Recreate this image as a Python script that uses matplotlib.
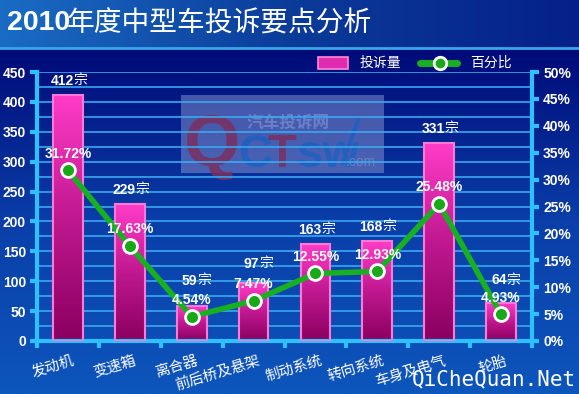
import matplotlib
matplotlib.use('Agg')
import matplotlib.pyplot as plt
import numpy as np
from matplotlib.colors import LinearSegmentedColormap
from matplotlib.patches import Rectangle

plt.rcParams['font.family'] = ['Noto Sans CJK SC', 'DejaVu Sans']

# data
categories = ['发动机', '变速箱', '离合器', '前后桥及悬架', '制动系统', '转向系统', '车身及电气', '轮胎']
counts = [412, 229, 59, 97, 163, 168, 331, 64]
percents = [31.72, 17.63, 4.54, 7.47, 12.55, 12.93, 25.48, 4.93]
left_ticks = list(range(0, 451, 50))
right_ticks = list(range(0, 51, 5))

# label offsets (points) above bar tops, moved up where they would clash
count_offset = [5, 5, 13, 9, 5, 5, 5, 11]

W, H = 579, 394
fig = plt.figure(figsize=(W / 100, H / 100), dpi=100)
arial = ['Liberation Sans', 'DejaVu Sans']

# background
bg = fig.add_axes([0, 0, 1, 1], zorder=-10)
bg.set_axis_off()
bg.set_xlim(0, W)
bg.set_ylim(H, 0)
body_cmap = LinearSegmentedColormap.from_list('body', ['#000a78', '#0a3ea8', '#0d56bc'])
bg.imshow(np.linspace(0, 1, 256).reshape(-1, 1), extent=[0, W, H, 48], cmap=body_cmap, aspect='auto')
title_cmap = LinearSegmentedColormap.from_list('title', ['#1a6cc4', '#0b3c9a', '#05208a'])
bg.imshow(np.linspace(0, 1, 256).reshape(1, -1), extent=[0, W, 48, 0], cmap=title_cmap, aspect='auto')
bg.plot([0, W], [48, 48], color='#3aa6e8', lw=2)
bg.text(7, 23, '2010', color='white', fontsize=20.5, fontweight='bold', va='center', family=arial)
bg.text(67, 23, '年度中型车投诉要点分析', color='white', fontsize=20, va='center')

# watermark box
bg.add_patch(Rectangle((181, 95), 203, 78, facecolor='#8a96d0', alpha=0.5, lw=0))
bg.text(184, 166, 'Q', color='#7a3060', fontsize=52, fontweight='bold', va='baseline', family=arial, alpha=0.85)
bg.text(238, 167, 'C', color='#2060c0', fontsize=34, fontweight='bold', va='baseline', family=arial, alpha=0.85)
bg.text(268, 167, 'T', color='#7a3060', fontsize=34, fontweight='bold', va='baseline', family=arial, alpha=0.85)
bg.text(296, 167, 'sw', color='#2060c0', fontsize=34, fontweight='bold', va='baseline', family=arial, alpha=0.85)
bg.plot([343, 358], [162, 120], color='#2060c0', lw=3, alpha=0.85)
bg.text(346, 166, '.com', color='#6a80c0', fontsize=10, va='baseline', family=arial)
bg.text(247, 123, '汽车投诉网', color='#6a80c8', fontsize=12, fontweight='bold', va='center')

# watermark footer
bg.text(576, 379, 'QiCheQuan.Net', color='white', fontsize=15, ha='right', va='center',
        family=['DejaVu Sans Mono'])

ax = fig.add_axes([37 / W, 1 - 341 / H, (532 - 37) / W, (341 - 72) / H])
ax.patch.set_alpha(0)
x = np.arange(len(categories))

# grid
for g in range(25, 451, 25):
    ax.axhline(g, color='#3aa8f0', lw=1.2, zorder=1)

bar_cmap = LinearSegmentedColormap.from_list('bar', ['#ff3cc8', '#c01890', '#8a0060'])
bars = ax.bar(x, counts, width=0.48, facecolor='none', edgecolor='#ff7ad6', lw=1.5, zorder=3)
for b in bars:
    x0 = b.get_x()
    im = ax.imshow(np.linspace(0, 1, 128).reshape(-1, 1), extent=[x0, x0 + b.get_width(), 0, b.get_height()],
                   cmap=bar_cmap, aspect='auto', origin='upper', zorder=2)
    im.set_clip_path(b)
ax.set_xlim(-0.5, len(categories) - 0.5)
ax.set_ylim(0, 450)

for xi, c, off in zip(x, counts, count_offset):
    ax.annotate(f'{c}', xy=(xi, c), xytext=(4, off), textcoords='offset points', color='white',
                fontsize=10, fontweight='bold', ha='right', va='bottom', family=arial)
    ax.annotate('宗', xy=(xi, c), xytext=(4, off + 0.5), textcoords='offset points', color='white',
                fontsize=10, ha='left', va='bottom')

for s in ['top', 'right']:
    ax.spines[s].set_visible(False)
for s in ['left', 'bottom']:
    ax.spines[s].set_color('#2ec0ff')
    ax.spines[s].set_linewidth(3)
ax.set_yticks(left_ticks)
ax.set_yticklabels([str(t) for t in left_ticks], family=arial, fontweight='bold', fontsize=10, color='white')
ax.set_xticks(np.arange(len(categories) + 1) - 0.5)
ax.set_xticklabels([])
ax.tick_params(axis='both', colors='#2ec0ff', width=3, length=5, direction='out')
ax.tick_params(axis='y', labelcolor='white', pad=3)

for xi, cat in zip(x, categories):
    ax.annotate(cat, xy=(xi, 0), xycoords='data', xytext=(3, -9), textcoords='offset points',
                rotation=17, rotation_mode='anchor', ha='right', va='top',
                color='white', fontsize=10.5, style='italic', annotation_clip=False)

ax2 = ax.twinx()
ax2.set_ylim(0, 50)
ax2.patch.set_alpha(0)
for s in ['top', 'left', 'bottom']:
    ax2.spines[s].set_visible(False)
ax2.spines['right'].set_color('#2ec0ff')
ax2.spines['right'].set_linewidth(3)
ax2.set_yticks(right_ticks)
ax2.set_yticklabels([f'{t}%' for t in right_ticks], family=arial, fontweight='bold', fontsize=10, color='white')
ax2.tick_params(axis='y', colors='#2ec0ff', width=3, length=5, labelcolor='white', pad=3)

ax2.plot(x, percents, color='#18b020', lw=4, marker='o', markersize=10,
         markerfacecolor='#18a818', markeredgecolor='white', markeredgewidth=2, zorder=5)
for xi, p in zip(x, percents):
    ax2.annotate(f'{p:.2f}%', xy=(xi, p), xytext=(0, 7), textcoords='offset points', color='white',
                 fontsize=10, fontweight='bold', ha='center', va='bottom', family=arial, zorder=6)

# legend
bg.add_patch(Rectangle((318, 57), 30, 12, facecolor='#e02ab0', edgecolor='#ff8ad8', lw=1.2))
bg.text(360, 63, '投诉量', color='white', fontsize=10, va='center')
bg.plot([420, 457], [63, 63], color='#18b020', lw=5, solid_capstyle='round')
bg.plot([440], [63], marker='o', markersize=9, markerfacecolor='#18a818',
        markeredgecolor='white', markeredgewidth=2)
bg.text(470, 63, '百分比', color='white', fontsize=10, va='center')

fig.savefig('out.png', dpi=100)
